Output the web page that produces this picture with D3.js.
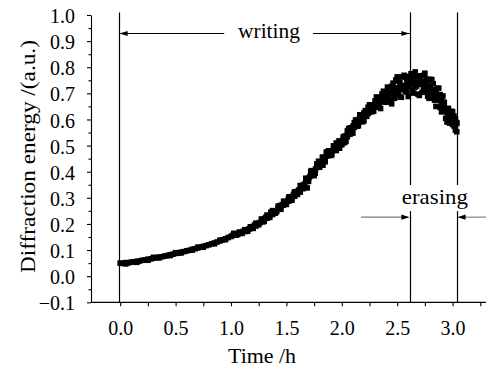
<!DOCTYPE html>
<html><head><meta charset="utf-8">
<script src="https://cdn.jsdelivr.net/npm/d3@7"></script>
<style>body{margin:0;background:#fff} svg{display:block} svg text{font-family:"Liberation Serif";}</style>
</head><body><svg id="c" width="486" height="369"></svg>
<script>
// ---- data ----
const majorX = [0, 0.5, 1.0, 1.5, 2.0, 2.5, 3.0];
const minorX = [0.25, 0.75, 1.25, 1.75, 2.25, 2.75, 3.25];
const majorY = [-0.1, 0.0, 0.1, 0.2, 0.3, 0.4, 0.5, 0.6, 0.7, 0.8, 0.9, 1.0];
const minorY = [-0.05, 0.05, 0.15, 0.25, 0.35, 0.45, 0.55, 0.65, 0.75, 0.85, 0.95];
const xTitle = "Time /h";
const yTitle = "Diffraction energy /(a.u.)";
const phaseLines = [-0.015, 2.615, 3.04];           // vertical markers (h)
const writingLabel = {text: "writing", t: 1.343, v: 0.913};
const erasingLabel = {text: "erasing", t: 2.84, v: 0.276};

// diffraction energy vs time: [time (h), energy (a.u.)]
const pointsLow = [
[0.000,0.050],[0.025,0.049],[0.050,0.052],[0.075,0.051],[0.100,0.054],[0.125,0.055],[0.150,0.057],[0.175,0.058],
[0.200,0.061],[0.225,0.062],[0.250,0.065],[0.275,0.066],[0.300,0.069],[0.325,0.071],[0.350,0.073],[0.375,0.074],
[0.400,0.077],[0.425,0.079],[0.450,0.082],[0.475,0.084],[0.500,0.087],[0.525,0.088],[0.550,0.092],[0.575,0.094],
[0.600,0.097],[0.625,0.099],[0.650,0.103],[0.675,0.105],[0.700,0.108],[0.725,0.111],[0.750,0.114],[0.775,0.117],
[0.800,0.120],[0.825,0.124],[0.850,0.127],[0.875,0.131],[0.900,0.135],[0.925,0.139],[0.950,0.143],[0.975,0.148],
[1.000,0.152],
[0.050,0.047],[0.150,0.053],[0.250,0.061],[0.350,0.070],[0.450,0.079],[0.550,0.089],[0.650,0.100],[0.750,0.111],
[0.850,0.124],[0.950,0.140],[0.300,0.072],[0.500,0.090],[0.700,0.111],[0.900,0.138]
];
const pointsMid = [
[1.0125,0.156],[1.025,0.158],[1.0375,0.157],[1.05,0.162],[1.0625,0.161],[1.075,0.165],[1.0875,0.164],[1.10,0.168],
[1.1125,0.172],[1.125,0.171],[1.1375,0.176],[1.15,0.178],[1.1625,0.181],[1.175,0.183],[1.1875,0.187],[1.20,0.190],
[1.2125,0.196],[1.225,0.192],[1.2375,0.200],[1.25,0.203],[1.2625,0.205],[1.275,0.212],[1.2875,0.208],[1.30,0.218],
[1.3125,0.225],[1.325,0.222],[1.3375,0.229],[1.35,0.232],[1.3625,0.238],[1.375,0.236],[1.3875,0.245],[1.40,0.250],
[1.4125,0.247],[1.425,0.258],[1.4375,0.262],[1.45,0.266],[1.4625,0.274],[1.475,0.272],[1.4875,0.280],[1.50,0.285],
[1.5125,0.290],[1.525,0.288],[1.5375,0.298],[1.55,0.302],[1.5625,0.310],[1.575,0.306],[1.5875,0.318],[1.60,0.325],
[1.6125,0.330],[1.625,0.322],[1.6375,0.342],[1.65,0.348],[1.6625,0.352],[1.675,0.362],[1.6875,0.338],[1.70,0.375],
[1.7125,0.382],[1.725,0.390],[1.7375,0.395],[1.75,0.402],[1.7625,0.410],[1.775,0.418],[1.7875,0.425],[1.80,0.430],
[1.8125,0.438],[1.825,0.440],[1.8375,0.450],[1.85,0.452],[1.8625,0.460],[1.875,0.462],[1.8875,0.470],[1.90,0.475],
[1.9125,0.480],[1.925,0.485],[1.9375,0.490],[1.95,0.495],[1.9625,0.500],[1.975,0.505],[1.9875,0.510],[2.00,0.515],
[1.72,0.400],[1.76,0.395],[1.79,0.440],[1.83,0.425],[1.86,0.475],[1.91,0.465],[1.95,0.510],[1.98,0.490],[1.75,0.385],[1.88,0.480],
[1.36,0.245],[1.44,0.270],[1.52,0.300],[1.57,0.318],[1.66,0.340],
[1.025,0.164],[1.05,0.157],[1.075,0.169],[1.10,0.164],[1.125,0.178],[1.15,0.172],[1.175,0.189],[1.20,0.183],
[1.225,0.203],[1.25,0.197],[1.275,0.219],[1.30,0.210],[1.325,0.234],[1.35,0.225],[1.375,0.251],[1.40,0.241],
[1.425,0.268],[1.45,0.256],[1.475,0.287],[1.50,0.275],[1.525,0.304],[1.55,0.291],[1.575,0.323],[1.60,0.313],
[1.625,0.347],[1.65,0.335],[1.675,0.375],[1.70,0.363],[1.725,0.404],[1.75,0.388],[1.775,0.430],[1.80,0.417],
[1.825,0.456],[1.85,0.438],[1.875,0.476],[1.90,0.462],[1.925,0.499],[1.95,0.481],[1.975,0.518],[2.00,0.503]
];
const pointsHigh = [
[2.0125,0.521],[2.025,0.528],[2.0375,0.534],[2.05,0.540],[2.0625,0.547],[2.075,0.554],[2.0875,0.561],[2.1,0.568],
[2.1125,0.574],[2.125,0.580],[2.1375,0.586],[2.15,0.592],[2.1625,0.598],[2.175,0.604],[2.1875,0.609],[2.2,0.615],
[2.2125,0.620],[2.225,0.626],[2.2375,0.631],[2.25,0.636],[2.2625,0.641],[2.275,0.646],[2.2875,0.650],[2.3,0.655],
[2.3125,0.659],[2.325,0.663],[2.3375,0.668],[2.35,0.672],[2.3625,0.676],[2.375,0.681],[2.3875,0.685],[2.4,0.690],
[2.4125,0.694],[2.425,0.698],[2.4375,0.701],[2.45,0.705],[2.4625,0.708],[2.475,0.712],[2.4875,0.715],[2.5,0.718],
[2.5125,0.720],[2.525,0.722],[2.5375,0.725],[2.55,0.727],[2.5625,0.729],[2.575,0.730],[2.5875,0.732],[2.6,0.733],
[2.6125,0.734],[2.625,0.735],[2.6375,0.736],[2.65,0.737],[2.6625,0.737],[2.675,0.737],[2.6875,0.737],[2.7,0.737],
[2.7125,0.736],[2.725,0.735],[2.7375,0.733],[2.75,0.732],[2.7625,0.728],[2.775,0.725],[2.7875,0.721],[2.8,0.718],
[2.8125,0.712],[2.825,0.706],[2.8375,0.701],[2.85,0.695],[2.8625,0.688],[2.875,0.680],[2.8875,0.673],[2.9,0.665],
[2.9125,0.655],[2.925,0.645],[2.9375,0.635],[2.95,0.625],[2.9625,0.618],[2.975,0.610],[2.9875,0.603],[3.0,0.595],
[3.0125,0.592],[3.025,0.588],[3.0375,0.584],
[2.0125,0.533],[2.025,0.512],[2.0375,0.536],[2.05,0.534],[2.0625,0.565],[2.075,0.544],[2.0875,0.567],[2.1,0.548],
[2.1125,0.588],[2.125,0.580],[2.1375,0.574],[2.15,0.600],[2.1625,0.618],[2.175,0.600],[2.1875,0.591],[2.2,0.625],
[2.2125,0.624],[2.225,0.612],[2.2375,0.647],[2.25,0.628],[2.2625,0.653],[2.275,0.630],[2.2875,0.652],[2.3,0.649],
[2.3125,0.686],[2.325,0.648],[2.3375,0.677],[2.35,0.642],[2.3625,0.697],[2.375,0.681],[2.3875,0.667],[2.4,0.702],
[2.4125,0.724],[2.425,0.692],[2.4375,0.674],[2.45,0.727],[2.4625,0.717],[2.475,0.681],[2.4875,0.751],[2.5,0.700],
[2.5125,0.747],[2.525,0.686],[2.5375,0.729],[2.55,0.714],[2.5625,0.769],[2.575,0.708],[2.5875,0.745],[2.6,0.688],
[2.6125,0.765],[2.625,0.735],[2.6375,0.709],[2.65,0.755],[2.6625,0.782],[2.675,0.728],[2.6875,0.697],[2.7,0.759],
[2.7125,0.745],[2.725,0.704],[2.7375,0.769],[2.75,0.714],[2.7625,0.755],[2.775,0.689],[2.7875,0.725],[2.8,0.705],
[2.8125,0.752],[2.825,0.684],[2.8375,0.714],[2.85,0.650],[2.8625,0.719],[2.875,0.680],[2.8875,0.646],[2.9,0.683],
[2.9125,0.690],[2.925,0.638],[2.9375,0.604],[2.95,0.642],[2.9625,0.625],[2.975,0.586],[2.9875,0.631],[3.0,0.581],
[3.0125,0.613],[3.025,0.560],[3.0375,0.588],
[2.0125,0.511],[2.025,0.536],[2.0375,0.516],[2.05,0.556],[2.0625,0.545],[2.075,0.568],[2.0875,0.549],[2.1,0.574],
[2.1125,0.570],[2.125,0.598],[2.1375,0.596],[2.15,0.576],[2.1625,0.592],[2.175,0.616],[2.1875,0.611],[2.2,0.595],
[2.2125,0.634],[2.225,0.630],[2.2375,0.623],[2.25,0.656],[2.2625,0.631],[2.275,0.654],[2.2875,0.632],[2.3,0.671],
[2.3125,0.656],[2.325,0.684],[2.3375,0.650],[2.35,0.681],[2.3625,0.670],[2.375,0.708],[2.3875,0.700],[2.4,0.666],
[2.4125,0.685],[2.425,0.716],[2.4375,0.704],[2.45,0.660],[2.4625,0.739],[2.475,0.721],[2.4875,0.697],[2.5,0.763],
[2.5125,0.698],[2.525,0.740],[2.5375,0.685],[2.55,0.763],[2.5625,0.725],[2.575,0.761],[2.5875,0.705],[2.6,0.746],
[2.6125,0.725],[2.625,0.775],[2.6375,0.758],[2.65,0.701],[2.6625,0.724],[2.675,0.764],[2.6875,0.741],[2.7,0.692],
[2.7125,0.767],[2.725,0.744],[2.7375,0.715],[2.75,0.777],[2.7625,0.706],[2.775,0.743],[2.7875,0.681],[2.8,0.754],
[2.8125,0.708],[2.825,0.737],[2.8375,0.674],[2.85,0.708],[2.8625,0.679],[2.875,0.720],[2.8875,0.695],[2.9,0.629],
[2.9125,0.645],[2.925,0.666],[2.9375,0.638],[2.95,0.590],[2.9625,0.642],[2.975,0.617],[2.9875,0.589],[3.0,0.630],
[3.0125,0.575],[3.025,0.602],[3.0375,0.553]
];
const points = pointsLow.concat(pointsMid, pointsHigh);

// ---- drawing ----
const svg = d3.select("#c");
const FONT = '"Liberation Serif"';
const x = d3.scaleLinear().domain([0, 3]).range([120.2, 452.6]);
const y = d3.scaleLinear().domain([-0.1, 1.0]).range([302.3, 15]);
const axisX0 = 91, axisXEnd = 486;

// points
const S = 5.6;
svg.append("g").selectAll("rect").data(points).join("rect")
  .attr("x", d => x(d[0]) - S/2).attr("y", d => y(d[1]) - S/2)
  .attr("width", S).attr("height", S).attr("fill", "#000");

// vertical phase lines (gap for erasing label on the last two)
const gapTop = y(0.349), gapBot = y(0.249);
phaseLines.forEach((t, i) => {
  const xp = Math.round(x(t)) + 0.5;
  if (i === 0) {
    svg.append("line").attr("x1", xp).attr("x2", xp).attr("y1", y(1.01)).attr("y2", y(-0.1))
      .attr("stroke", "#000").attr("stroke-width", 1.2);
  } else {
    svg.append("line").attr("x1", xp).attr("x2", xp).attr("y1", y(1.01)).attr("y2", gapTop)
      .attr("stroke", "#000").attr("stroke-width", 1.2);
    svg.append("line").attr("x1", xp).attr("x2", xp).attr("y1", gapBot).attr("y2", y(-0.1))
      .attr("stroke", "#000").attr("stroke-width", 1.2);
  }
});

// axes
const gx = svg.append("g").attr("transform", `translate(0,${y(-0.1)})`);
gx.call(d3.axisBottom(x).tickValues(majorX).tickSize(4).tickPadding(15).tickSizeOuter(0).tickFormat(d3.format(".1f")));
gx.call(g => g.select(".domain").remove());
const gxm = svg.append("g").attr("transform", `translate(0,${y(-0.1)})`);
gxm.call(d3.axisBottom(x).tickValues(minorX).tickSize(4).tickSizeOuter(0).tickFormat(""));
gxm.call(g => g.select(".domain").remove());
svg.append("line").attr("x1", axisX0).attr("x2", axisXEnd).attr("y1", y(-0.1)).attr("y2", y(-0.1))
  .attr("stroke", "#000").attr("stroke-width", 1.2);

const gy = svg.append("g").attr("transform", `translate(${axisX0},0)`);
gy.call(d3.axisLeft(y).tickValues(majorY).tickSize(4).tickPadding(12).tickSizeOuter(0).tickFormat(d3.format(".1f")));
const gym = svg.append("g").attr("transform", `translate(${axisX0},0)`);
gym.call(d3.axisLeft(y).tickValues(minorY).tickSize(2.5).tickSizeOuter(0).tickFormat(""));
gym.select(".domain").remove();

svg.selectAll("g").attr("font-family", null).attr("font-size", null);
svg.selectAll(".tick line, .domain").attr("stroke", "#000").attr("stroke-width", 1.1);
svg.selectAll(".tick text").style("font-family", FONT).style("font-size", "20px").attr("fill", "#000");
gy.selectAll(".tick text").attr("dy", "0.38em");

// axis titles
svg.append("text").attr("x", x(1.28)).attr("y", 363).attr("text-anchor", "middle")
  .style("font-family", FONT).style("font-size", "20px").attr("textLength", 68).attr("lengthAdjust", "spacingAndGlyphs")
  .text(xTitle);
svg.append("text").attr("transform", `translate(35,${y(0.5) + 11}) rotate(-90)`).attr("text-anchor", "middle")
  .style("font-family", FONT).style("font-size", "22px").attr("textLength", 233).attr("lengthAdjust", "spacingAndGlyphs")
  .text(yTitle);

// arrows
function arrowHead(xTip, yp, dir) { // dir -1 points left, +1 points right
  const L = 8, W = 2.6;
  svg.append("path").attr("d", `M${xTip},${yp} L${xTip - dir*L},${yp - W} L${xTip - dir*L},${yp + W} Z`).attr("fill", "#000");
}
const yW = y(0.931) + 0.5;
svg.append("line").attr("x1", x(0)).attr("x2", x(0.939)).attr("y1", yW).attr("y2", yW).attr("stroke", "#000").attr("stroke-width", 1.1);
svg.append("line").attr("x1", x(1.74)).attr("x2", x(2.615)).attr("y1", yW).attr("y2", yW).attr("stroke", "#000").attr("stroke-width", 1.1);
arrowHead(x(-0.005), yW, -1);
arrowHead(x(2.61), yW, 1);
svg.append("text").attr("x", x(writingLabel.t)).attr("y", y(writingLabel.v)).attr("text-anchor", "middle")
  .style("font-family", FONT).style("font-size", "22px").attr("textLength", 62).attr("lengthAdjust", "spacingAndGlyphs")
  .text(writingLabel.text);

const yE = y(0.228) + 0.5;
svg.append("line").attr("x1", x(2.174)).attr("x2", x(2.6)).attr("y1", yE).attr("y2", yE).attr("stroke", "#777").attr("stroke-width", 1.1);
svg.append("line").attr("x1", x(3.05)).attr("x2", axisXEnd).attr("y1", yE).attr("y2", yE).attr("stroke", "#777").attr("stroke-width", 1.1);
arrowHead(x(2.61), yE, 1);
arrowHead(x(3.045), yE, -1);
svg.append("text").attr("x", x(erasingLabel.t)).attr("y", y(erasingLabel.v)).attr("text-anchor", "middle")
  .style("font-family", FONT).style("font-size", "22px").attr("textLength", 66).attr("lengthAdjust", "spacingAndGlyphs")
  .text(erasingLabel.text);
</script>
</body></html>
